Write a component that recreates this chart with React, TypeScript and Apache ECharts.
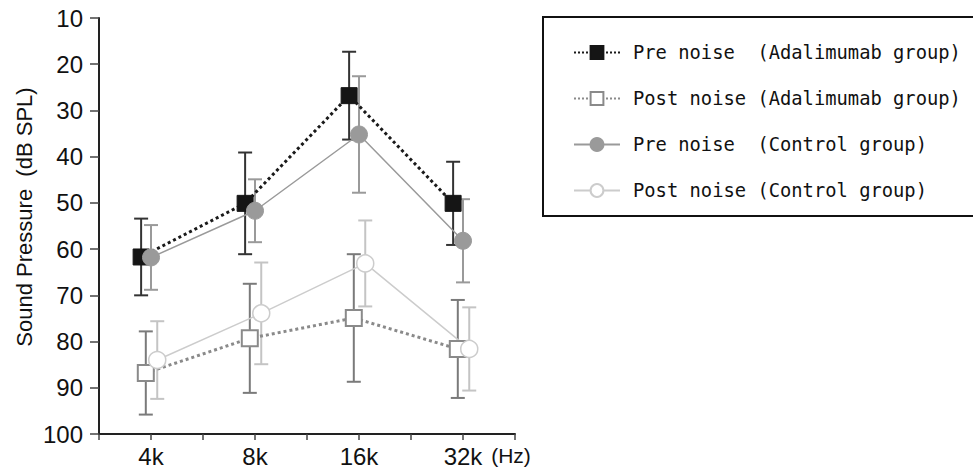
import React, { useEffect, useRef } from "react";
import * as echarts from "echarts";

// Frequencies (positions on a 0..8 value axis)
const freqLabels = ["4k", "8k", "16k", "32k"];
const freqPositions = [1, 3, 5, 7];

// Series names
const seriesNames = [
  "Pre noise  (Adalimumab group)",
  "Post noise (Adalimumab group)",
  "Pre noise  (Control group)",
  "Post noise (Control group)",
];

// Means (dB SPL) and error (±)
const preAdalMean = [61.7, 50.1, 26.8, 50.1];
const preAdalErr = [8.3, 11, 9.5, 9];
const postAdalMean = [86.8, 79.3, 74.9, 81.6];
const postAdalErr = [9, 11.8, 13.8, 10.6];
const preCtrlMean = [61.8, 51.7, 35.2, 58.2];
const preCtrlErr = [7, 6.8, 12.6, 9];
const postCtrlMean = [84.0, 73.9, 63.1, 81.6];
const postCtrlErr = [8.4, 11, 9.3, 9];

// horizontal offsets of each group around the frequency position
const offsets = [-0.19, -0.1, 0, 0.12];

const yTicks = { min: 10, max: 100, interval: 10 };

const narrow = "'Liberation Sans Narrow', 'Arial Narrow', 'Liberation Sans'";

export default function App() {
  const ref = useRef<HTMLDivElement>(null);
  useEffect(() => {
    if (!ref.current) return;
    const chart = echarts.init(ref.current, null, { renderer: "svg" });

    const means = [preAdalMean, postAdalMean, preCtrlMean, postCtrlMean];
    const errs = [preAdalErr, postAdalErr, preCtrlErr, postCtrlErr];
    const lineColors = ["#1a1a1a", "#8a8a8a", "#9a9a9a", "#cccccc"];
    const lineWidths = [3, 3, 1.5, 1.5];
    const lineTypes = ["dotted", "dotted", "solid", "solid"];
    const errColors = ["#333333", "#7a7a7a", "#9a9a9a", "#c4c4c4"];
    const symbols = ["rect", "rect", "circle", "circle"];
    const symbolSizes = [16, 16, 17, 17];
    const itemStyles = [
      { color: "#151515", borderColor: "#151515", borderWidth: 1 },
      { color: "#ffffff", borderColor: "#8a8a8a", borderWidth: 2 },
      { color: "#9a9a9a", borderColor: "#9a9a9a", borderWidth: 1 },
      { color: "#ffffff", borderColor: "#cccccc", borderWidth: 1.5 },
    ];

    const lineSeries = means.map((m, s) => ({
      type: "line",
      name: seriesNames[s],
      data: m.map((v, i) => [freqPositions[i] + offsets[s], v]),
      symbol: symbols[s],
      symbolSize: symbolSizes[s],
      showSymbol: true,
      z: 3,
      lineStyle: { color: lineColors[s], width: lineWidths[s], type: lineTypes[s] },
      itemStyle: itemStyles[s],
    }));

    const errSeries = means.map((m, s) => ({
      type: "custom",
      name: seriesNames[s] + " err",
      z: 1,
      data: m.map((v, i) => [freqPositions[i] + offsets[s], v - errs[s][i], v + errs[s][i]]),
      renderItem: (params: any, api: any) => {
        const x = api.value(0);
        const p1 = api.coord([x, api.value(1)]);
        const p2 = api.coord([x, api.value(2)]);
        const hw = 7;
        const style = { stroke: errColors[s], lineWidth: 2 };
        return {
          type: "group",
          children: [
            { type: "line", shape: { x1: p1[0], y1: p1[1], x2: p2[0], y2: p2[1] }, style },
            { type: "line", shape: { x1: p1[0] - hw, y1: p1[1], x2: p1[0] + hw, y2: p1[1] }, style },
            { type: "line", shape: { x1: p2[0] - hw, y1: p2[1], x2: p2[0] + hw, y2: p2[1] }, style },
          ],
        };
      },
    }));

    chart.setOption({
      animation: false,
      backgroundColor: "#ffffff",
      grid: { left: 99, top: 18, width: 416, height: 416, containLabel: false },
      legend: {
        orient: "vertical",
        left: 568,
        top: 38,
        itemWidth: 46,
        itemHeight: 16,
        itemGap: 27,
        data: seriesNames,
        textStyle: {
          fontFamily: "DejaVu Sans Mono",
          fontSize: 18.8,
          color: "#111",
          padding: [0, 0, 0, 8],
        },
      },
      xAxis: {
        type: "value",
        min: 0,
        max: 8,
        interval: 1,
        axisLine: { lineStyle: { color: "#222", width: 2 } },
        axisTick: { length: 6, lineStyle: { color: "#444", width: 1.5 } },
        splitLine: { show: false },
        axisLabel: {
          margin: 10,
          fontFamily: narrow,
          fontSize: 24,
          color: "#111",
          formatter: (v: number) => {
            const i = freqPositions.indexOf(v);
            return i >= 0 ? freqLabels[i] : "";
          },
        },
      },
      yAxis: {
        type: "value",
        inverse: true,
        min: yTicks.min,
        max: yTicks.max,
        interval: yTicks.interval,
        axisLine: { show: true, lineStyle: { color: "#222", width: 2 } },
        axisTick: { show: true, length: 9, lineStyle: { color: "#444", width: 1.5 } },
        splitLine: { show: false },
        axisLabel: {
          margin: 16,
          fontFamily: narrow,
          fontSize: 24,
          color: "#111",
        },
      },
      graphic: [
        {
          type: "text",
          x: 24,
          y: 217,
          rotation: Math.PI / 2,
          style: {
            text: "Sound Pressure  (dB SPL)",
            align: "center",
            verticalAlign: "middle",
            font: "22px " + narrow,
            fill: "#111",
          },
        },
        {
          type: "text",
          x: 511,
          y: 455,
          style: {
            text: "(Hz)",
            align: "center",
            verticalAlign: "middle",
            font: "21px " + narrow,
            fill: "#111",
          },
        },
        {
          type: "rect",
          shape: { x: 543, y: 17, width: 445, height: 199 },
          style: { fill: "none", stroke: "#111", lineWidth: 2 },
          z: 0,
        },
      ],
      series: [...errSeries, ...lineSeries],
    });

    return () => chart.dispose();
  }, []);

  return (
    <div
      ref={ref}
      style={{ position: "absolute", left: 0, top: 0, width: 973, height: 468 }}
    />
  );
}
